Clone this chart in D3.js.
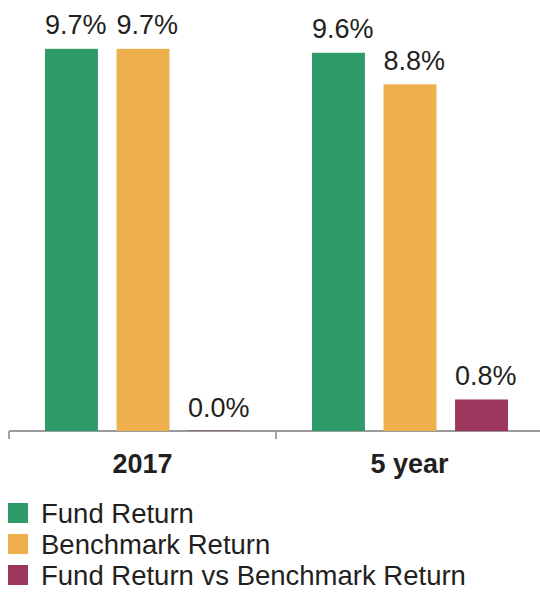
<!DOCTYPE html>
<html lang="en">
<head>
    <meta charset="UTF-8">
    <title>Fund vs Benchmark Return</title>
    <style>
        body { margin: 0; background: #fff; }
        svg { display: block; font-family: "Liberation Sans", Arial, Helvetica, sans-serif; }
    </style>
</head>
<body>
    <div id="chart"></div>

    <script src="https://d3js.org/d3.v7.min.js"></script>
    <script>
        // data
        const categories = ["2017", "5 year"];
        const seriesNames = ["Fund Return", "Benchmark Return", "Fund Return vs Benchmark Return"];
        const fundReturn = [9.7, 9.6];
        const benchmarkReturn = [9.7, 8.8];
        const fundVsBenchmark = [0.0, 0.8];
        const seriesValues = [fundReturn, benchmarkReturn, fundVsBenchmark];
        const colors = ["#2f9b68", "#eeb04d", "#9c365d"];

        const width = 540, height = 592;
        const baseline = 431;

        const svg = d3.select("#chart").append("svg")
            .attr("width", width)
            .attr("height", height);

        const x0 = d3.scaleBand()
            .domain(categories)
            .range([9, 543]);

        const x1 = d3.scaleBand()
            .domain(seriesNames)
            .range([36, 232])
            .paddingInner(0.26);

        const y = d3.scaleLinear()
            .domain([0, 10])
            .range([baseline, 37]);

        // axis line + ticks at band edges
        const axis = svg.append("g").attr("stroke", "#9a9a9c").attr("stroke-width", 1.8);
        axis.append("line")
            .attr("x1", x0.range()[0]).attr("x2", x0.range()[1])
            .attr("y1", baseline).attr("y2", baseline);
        axis.selectAll(".tick")
            .data(categories)
            .enter().append("line")
            .attr("x1", d => x0(d)).attr("x2", d => x0(d))
            .attr("y1", baseline).attr("y2", baseline + 8);

        const rows = [];
        categories.forEach((c, ci) => {
            seriesNames.forEach((s, si) => {
                rows.push({ cat: c, series: s, i: si, value: seriesValues[si][ci] });
            });
        });

        const groups = svg.selectAll(".bar")
            .data(rows)
            .enter().append("g");

        groups.append("rect")
            .attr("x", d => x0(d.cat) + x1(d.series))
            .attr("y", d => Math.min(y(d.value), baseline - 1))
            .attr("width", x1.bandwidth())
            .attr("height", d => Math.max(baseline - y(d.value), 1))
            .attr("fill", d => colors[d.i])
            .attr("opacity", d => d.value === 0 ? 0.5 : 1);

        groups.append("text")
            .attr("x", d => x0(d.cat) + x1(d.series))
            .attr("y", d => y(d.value) - 14.5)
            .attr("font-size", "27px")
            .attr("fill", "#231f20")
            .text(d => d.value.toFixed(1) + "%");

        // category labels
        svg.selectAll(".cat")
            .data(categories)
            .enter().append("text")
            .attr("x", d => x0(d) + x0.bandwidth() / 2)
            .attr("y", baseline + 42)
            .attr("text-anchor", "middle")
            .attr("font-size", "27px")
            .attr("font-weight", "bold")
            .attr("fill", "#231f20")
            .text(d => d);

        // legend
        const legend = svg.append("g")
            .attr("transform", "translate(8,503)");

        legend.selectAll("rect")
            .data(seriesNames)
            .enter().append("rect")
            .attr("x", 0)
            .attr("y", (d, i) => i * 31)
            .attr("width", 20)
            .attr("height", 20)
            .attr("fill", (d, i) => colors[i]);

        legend.selectAll("text")
            .data(seriesNames)
            .enter().append("text")
            .attr("x", 33)
            .attr("y", (d, i) => i * 31 + 20)
            .attr("font-size", "27.5px")
            .attr("fill", "#231f20")
            .text(d => d);
    </script>
</body>
</html>
